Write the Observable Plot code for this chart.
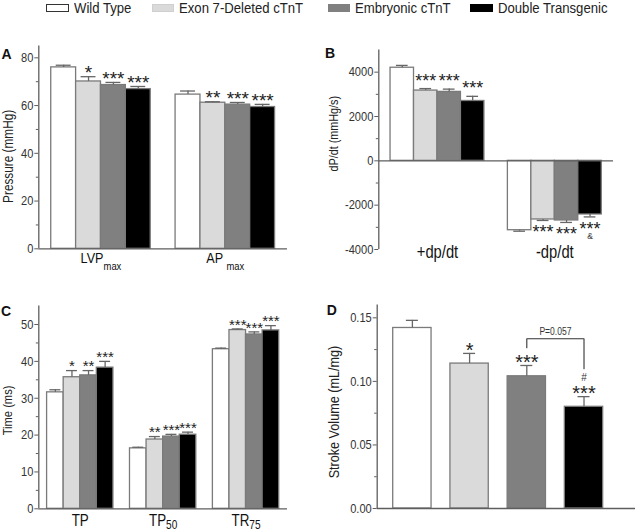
<!DOCTYPE html>
<html>
<head>
<meta charset="utf-8">
<script src="https://cdn.jsdelivr.net/npm/d3@7"></script>
<script src="https://cdn.jsdelivr.net/npm/@observablehq/plot@0.6"></script>
<style>
  body { margin: 0; background: #fff; }
  #fig { position: relative; width: 640px; height: 532px; overflow: hidden;
         font-family: "Liberation Sans", Arial, sans-serif; color: #222; }
  .panel { position: absolute; }
  .letter { position: absolute; font: bold 14px "Liberation Sans", Arial, sans-serif; line-height: 14px; color: #111; }
  #legend { position: absolute; left: 0; top: 0; width: 640px; height: 18px; }
  #legend .sw { position: absolute; top: 4.2px; width: 22.5px; height: 8px; box-sizing: border-box; }
  #legend .tx { position: absolute; top: 1.1px; font-size: 14.6px; line-height: 14.6px; white-space: nowrap;
                transform: scaleX(0.9); transform-origin: 0 50%; color: #222; }
</style>
</head>
<body>
<div id="fig">
  <div id="legend"></div>
  <div class="letter" style="left:1.5px;top:46.5px">A</div>
  <div class="letter" style="left:325px;top:45.5px">B</div>
  <div class="letter" style="left:1px;top:304px">C</div>
  <div class="letter" style="left:326.7px;top:303px">D</div>
</div>
<script>
// ---------- data ----------
const series = ["Wild Type", "Exon 7-Deleted cTnT", "Embryonic cTnT", "Double Transgenic"];
const seriesFill = ["#ffffff", "#dadada", "#808080", "#000000"];
const seriesBorder = ["#333333", "#cfcfcf", "#808080", "#000000"];

// Panel A: pressure
const pressureCats = ["LVP_max", "AP _max"];
const pressureMean = [[76.0, 70.1, 68.6, 66.9], [64.6, 61.2, 60.4, 59.4]];
const pressureErr  = [[0.9, 2.0, 1.1, 1.1], [1.5, 0.4, 0.9, 1.1]];
const pressureSig  = [["", "*", "***", "***"], ["", "**", "***", "***"]];
const pressureTicks = [0, 20, 40, 60, 80];
const pressureMinor = [10, 30, 50, 70];

// Panel B: dP/dt
const dpdtCats = ["+dp/dt", "-dp/dt"];
const dpdtMean = [[4200, 3170, 3110, 2700], [-3130, -2645, -2690, -2420]];
const dpdtErr  = [[105, 90, 125, 210], [45, 45, 90, 110]];
const dpdtSig  = [["", "***", "***", "***"], ["", "***", "***", "***"]];
const dpdtExtra = [["", "", "", ""], ["", "", "", "&"]];
const dpdtTicks = [-4000, -2000, 0, 2000, 4000];
const dpdtMinor = [-3000, -1000, 1000, 3000];

// Panel C: time
const timeCats = ["TP", "TP_50", "TR_75"];
const timeMean = [[31.6, 35.7, 36.2, 38.3], [16.4, 18.8, 19.6, 20.1], [43.3, 48.5, 47.3, 48.4]];
const timeErr  = [[0.7, 1.8, 1.3, 1.7], [0.3, 0.8, 0.6, 0.7], [0.3, 0.3, 0.7, 1.3]];
const timeSig  = [["", "*", "**", "***"], ["", "**", "***", "***"], ["", "***", "***", "***"]];
const timeTicks = [0, 10, 20, 30, 40, 50];
const timeMinor = [5, 15, 25, 35, 45];

// Panel D: stroke volume
const svCats = [""];
const svMean = [[0.142, 0.114, 0.104, 0.080]];
const svErr  = [[0.006, 0.008, 0.0085, 0.008]];
const svSig  = [["", "*", "***", "***"]];
const svExtra = [["", "", "", "#"]];
const svTicks = [0.00, 0.05, 0.10, 0.15];
const svMinor = [0.025, 0.075, 0.125];
const bracketSeries = [2, 2, 3, 3];
const bracketY = [0.1264, 0.1335, 0.1335, 0.1099];
const bracketLabel = "P=0.057";

// ---------- legend ----------
const legendSwatchX = [46.1, 151.8, 327.8, 470.2];
const legend = document.getElementById("legend");
series.forEach((s, i) => {
  const sw = document.createElement("div"); sw.className = "sw";
  sw.style.left = legendSwatchX[i] + "px";
  sw.style.background = seriesFill[i]; sw.style.border = "1px solid " + seriesBorder[i];
  const tx = document.createElement("div"); tx.className = "tx"; tx.textContent = s;
  tx.style.left = (legendSwatchX[i] + 27.5) + "px";
  legend.append(sw, tx);
});

const FONT = '"Liberation Sans", Arial, sans-serif';
const AX = "#5e5e5e";
const NARROW = 0.82;

// labels such as "LVP_max" get a subscript; the whole label is condensed by a scale appended to its transform
function subscripts(svg, subDy, subSize) {
  const ns = "http://www.w3.org/2000/svg";
  svg.querySelectorAll("text").forEach(t => {
    const s = t.textContent;
    if (!s.includes("_")) return;
    const [base, sub] = s.split("_");
    t.textContent = "";
    const a = document.createElementNS(ns, "tspan"); a.textContent = base.trim();
    const b = document.createElementNS(ns, "tspan"); b.textContent = sub;
    b.setAttribute("dy", subDy); b.setAttribute("font-size", subSize);
    if (base.endsWith(" ")) b.setAttribute("dx", 4);
    t.append(a, b);
    const tr = t.getAttribute("transform");
    if (tr) { t.setAttribute("transform", tr + ` scale(${NARROW},1)`); t.dataset.cond = "1"; }
  });
}

// condense glyphs horizontally to mimic the narrow face of the original figure
function narrow(svg) {
  svg.querySelectorAll("text").forEach(t => {
    const s = t.textContent;
    if (!s || /^[*&#]+$/.test(s) || t.dataset.cond || t.querySelector("tspan")) return;
    const L = t.getComputedTextLength();
    if (L > 0) { t.setAttribute("textLength", (L * NARROW).toFixed(2)); t.setAttribute("lengthAdjust", "spacingAndGlyphs"); }
  });
}

function panel(cfg) {
  const stride = cfg.stride ?? 5;
  const hw = cfg.barHalf ?? 0.5;
  const rows = cfg.cats.flatMap((c, g) => series.map((s, i) => {
    const v = cfg.means[g][i], e = cfg.errs[g][i];
    return {cat: c, series: s, pos: g * stride + i, v, end: v >= 0 ? v + e : v - e,
            sig: cfg.sigs[g][i], extra: cfg.extras ? cfg.extras[g][i] : ""};
  }));
  const up = rows.filter(d => d.v >= 0), down = rows.filter(d => d.v < 0);
  const marks = [
    Plot.rect(rows, {x1: d => d.pos - hw, x2: d => d.pos + hw, y1: 0, y2: "v", fill: "series",
                     stroke: "#7a7a7a", strokeWidth: 1.3}),
    Plot.ruleX(rows, {x: "pos", y1: "v", y2: "end", stroke: "#666", strokeWidth: 1.3}),
    Plot.ruleY(rows, {y: "end", x1: d => d.pos - cfg.cap, x2: d => d.pos + cfg.cap, stroke: "#666", strokeWidth: 1.3}),
    Plot.ruleY([0], {stroke: AX, strokeWidth: 1.3}),
    Plot.ruleX([cfg.xDomain[0]], {stroke: AX, strokeWidth: 1.3}),
    Plot.axisY({ticks: cfg.major, tickSize: 4, tickPadding: 1.5, tickFormat: cfg.fmt, fontSize: 13.5,
                stroke: AX, fill: "#333", label: null}),
    Plot.axisY({ticks: cfg.minor, tickSize: 2.5, tickFormat: () => "", stroke: AX, label: null}),
    Plot.text(up.filter(d => d.sig), {x: "pos", y: "end", text: "sig", fontSize: cfg.starSize,
              lineAnchor: "bottom", dy: cfg.starDy, fill: "#222"}),
    Plot.text(down.filter(d => d.sig), {x: "pos", y: "end", text: "sig", fontSize: cfg.starSize,
              lineAnchor: "bottom", dy: cfg.negStarDy ?? 0, fill: "#222"}),
    Plot.text(up.filter(d => d.extra), {x: "pos", y: "end", text: "extra", fontSize: 10,
              lineAnchor: "bottom", dy: cfg.extraDy ?? 0, fill: "#333"}),
    Plot.text(down.filter(d => d.extra), {x: "pos", y: "end", text: "extra", fontSize: 8.5,
              lineAnchor: "bottom", dy: cfg.negExtraDy ?? 0, fill: "#333"}),
    Plot.text([cfg.ytitle], {frameAnchor: "left", textAnchor: "middle", lineAnchor: "middle", rotate: -90,
              dx: cfg.titleDx, dy: cfg.titleDy, text: d => d, fontSize: cfg.titleSize, fill: "#222"})
  ];
  if (cfg.cats.some(c => c)) {
    marks.push(Plot.text(cfg.cats, {x: (d, g) => g * stride + 1.5, frameAnchor: "bottom", textAnchor: "middle",
              text: d => d, lineAnchor: "bottom", dy: cfg.catDy, fontSize: cfg.catSize, fill: "#111"}));
  }
  if (cfg.extraMarks) marks.push(...cfg.extraMarks);
  const svg = Plot.plot({
    width: cfg.width, height: cfg.height,
    marginLeft: cfg.m[0], marginRight: cfg.m[1], marginTop: cfg.m[2], marginBottom: cfg.m[3],
    x: {domain: cfg.xDomain, axis: null},
    y: {domain: cfg.yDomain},
    color: {domain: series, range: seriesFill},
    style: {fontFamily: FONT, background: "transparent", overflow: "visible"},
    marks
  });
  subscripts(svg, cfg.subDy ?? 6, cfg.subSize ?? 11);
  const box = document.createElement("div");
  box.className = "panel";
  box.style.left = cfg.left + "px"; box.style.top = cfg.top + "px";
  box.append(svg);
  document.getElementById("fig").append(box);
  narrow(svg);
}

panel({
  left: 0, top: 30, width: 320, height: 250, m: [38.3, 33, 15.4, 31.7],
  cats: pressureCats, means: pressureMean, errs: pressureErr, sigs: pressureSig,
  xDomain: [-1, 9], yDomain: [0, 85], major: pressureTicks, minor: pressureMinor, fmt: d => String(d),
  cap: 0.3, starSize: 19, starDy: 2.6,
  ytitle: "Pressure (mmHg)", titleDx: -30, titleDy: 9, titleSize: 14.4,
  catSize: 15.4, catDy: 14.4, subDy: 6.5, subSize: 11.5
});

panel({
  left: 320, top: 30, width: 320, height: 250, m: [58.3, 27, 19.5, 31],
  cats: dpdtCats, means: dpdtMean, errs: dpdtErr, sigs: dpdtSig, extras: dpdtExtra,
  xDomain: [-1, 9], yDomain: [-4000, 5000], major: dpdtTicks, minor: dpdtMinor, fmt: d => String(d),
  cap: 0.25, starSize: 18, starDy: -2, negStarDy: 18, negExtraDy: 22.5,
  ytitle: "dP/dt (mmHg/s)", titleDx: -44.8, titleDy: -16, titleSize: 13.2,
  catSize: 18, catDy: 8.5
});

panel({
  left: 0, top: 280, width: 320, height: 252, m: [38.3, 33, 25.6, 23.7],
  cats: timeCats, means: timeMean, errs: timeErr, sigs: timeSig,
  xDomain: [-1, 14], yDomain: [0, 55], major: timeTicks, minor: timeMinor, fmt: d => String(d),
  cap: 0.33, starSize: 15, starDy: 0.8,
  ytitle: "Time (ms)", titleDx: -31, titleDy: 3, titleSize: 13.6,
  catSize: 16.3, catDy: 17, subDy: 3.3, subSize: 12.3
});

panel({
  left: 320, top: 280, width: 320, height: 252, m: [56.7, 5, 24.6, 24],
  cats: svCats, means: svMean, errs: svErr, sigs: svSig, extras: svExtra,
  stride: 1, barHalf: 0.335,
  xDomain: [-0.615, 3.9], yDomain: [0, 0.16], major: svTicks, minor: svMinor, fmt: d3.format(".2f"),
  cap: 0.105, starSize: 20, starDy: 3.2, extraDy: -15.5,
  ytitle: "Stroke Volume (mL/mg)", titleDx: -42.7, titleDy: 5.3, titleSize: 15.4,
  extraMarks: [
    Plot.line(bracketY.map((y, i) => ({x: bracketSeries[i], y})), {x: "x", y: "y", stroke: "#333", strokeWidth: 1.1}),
    Plot.text([bracketLabel], {x: (bracketSeries[0] + bracketSeries[3]) / 2, y: bracketY[1], text: d => d,
              lineAnchor: "bottom", dy: -4, fontSize: 10.4, fill: "#333"})
  ]
});
</script>
</body>
</html>
